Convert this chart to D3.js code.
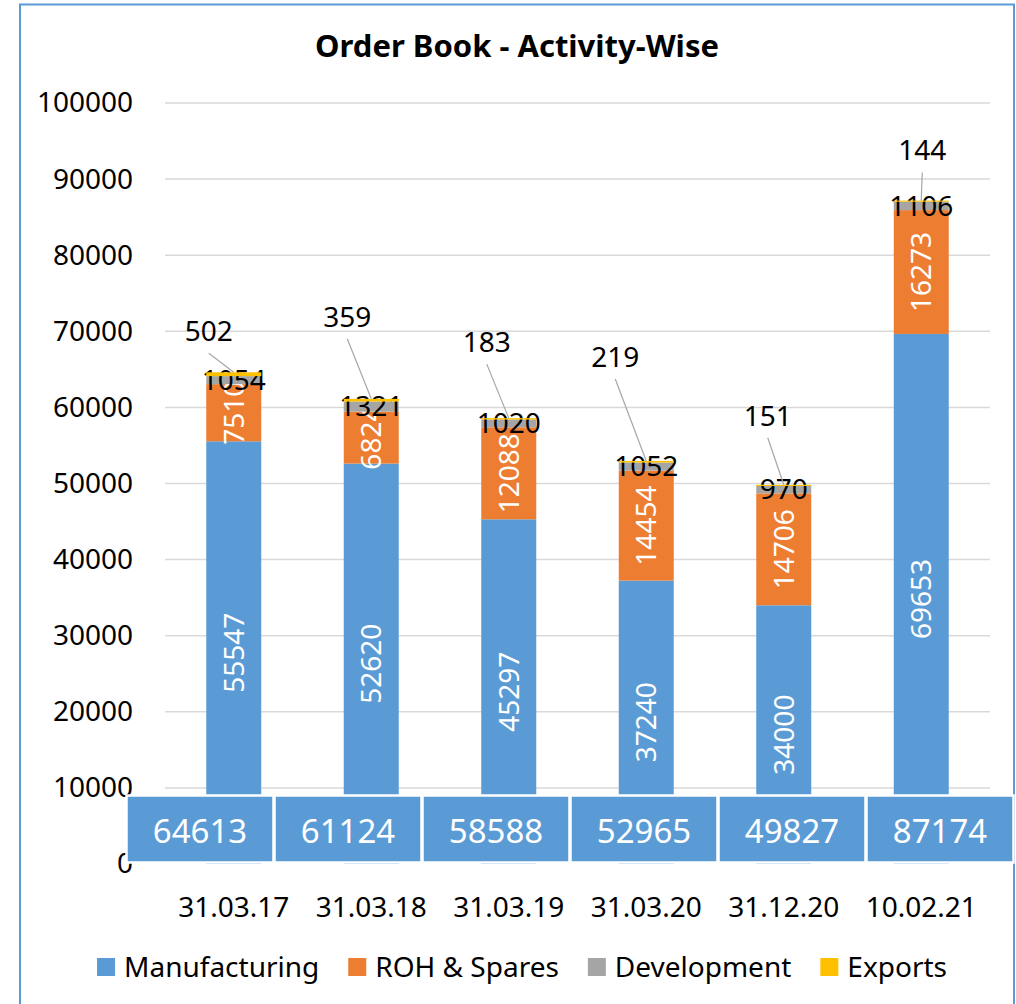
<!DOCTYPE html>
<html>
<head>
<meta charset="utf-8">
<script src="https://cdn.jsdelivr.net/npm/d3@7"></script>
<style>
  body { margin: 0; background: #fff; }
  svg text { font-family: "Noto Sans", "Open Sans", sans-serif; }
</style>
</head>
<body>
<div id="chart"></div>
<script>
const categories = ["31.03.17", "31.03.18", "31.03.19", "31.03.20", "31.12.20", "10.02.21"];
const manufacturing = [55547, 52620, 45297, 37240, 34000, 69653];
const rohSpares = [7510, 6824, 12088, 14454, 14706, 16273];
const development = [1054, 1321, 1020, 1052, 970, 1106];
const exportsVal = [502, 359, 183, 219, 151, 144];
const totals = [64613, 61124, 58588, 52965, 49827, 87174];
const seriesNames = ["Manufacturing", "ROH & Spares", "Development", "Exports"];
const seriesColors = ["#5B9BD5", "#ED7D31", "#A5A5A5", "#FFC000"];
const yTicks = d3.range(0, 100001, 10000);

// callout labels for Exports were dragged by hand in the original (px from bar top)
const exportLabelShift = [[-25, -41], [-24, -82], [-22, -76], [-31, -104], [-16, -69], [1, -50]];

const W = 1016, H = 1004;

const svg = d3.select("#chart")
  .append("svg")
  .attr("width", W)
  .attr("height", H)

// chart border
svg.append("rect")
  .attr("x", 20).attr("y", 4.5)
  .attr("width", 994).attr("height", 1100)
  .attr("fill", "none")
  .attr("stroke", "#5B9BD5")
  .attr("stroke-width", 2)

svg.append("text")
  .attr("x", 517).attr("y", 57)
  .attr("text-anchor", "middle")
  .attr("font-weight", "bold")
  .attr("font-size", 31)
  .text("Order Book - Activity-Wise")

const data = categories.map(function(c, i) {
  return {
    cat: c,
    "Manufacturing": manufacturing[i],
    "ROH & Spares": rohSpares[i],
    "Development": development[i],
    "Exports": exportsVal[i]
  }
})

const x = d3.scaleBand()
  .domain(categories)
  .range([165, 990])
  .paddingInner(0.6)
  .paddingOuter(0.3)

const y = d3.scaleLinear()
  .domain([0, 100000])
  .range([864, 103])

const color = d3.scaleOrdinal().domain(seriesNames).range(seriesColors)

// gridlines (no line at zero)
svg.append("g")
  .selectAll("line")
  .data(yTicks.filter(function(d) { return d > 0; }))
  .enter().append("line")
  .attr("x1", 165).attr("x2", 990)
  .attr("y1", function(d) { return y(d); })
  .attr("y2", function(d) { return y(d); })
  .attr("stroke", "#D9D9D9")
  .attr("stroke-width", 1.5)

// y axis labels
const yAxis = svg.append("g")
  .attr("transform", "translate(145,0)")
  .call(d3.axisLeft(y).tickValues(yTicks).tickSize(0).tickPadding(12).tickFormat(d3.format("d")))
yAxis.select(".domain").remove()
yAxis.selectAll("text")
  .attr("font-size", 28)
  .attr("font-family", "Noto Sans")
  .attr("fill", "#000")

const stacked = d3.stack().keys(seriesNames)(data)

stacked.forEach(function(layer, si) {
  const g = svg.append("g")
  g.selectAll("rect")
    .data(layer)
    .enter().append("rect")
    .attr("x", function(d) { return x(d.data.cat); })
    .attr("width", x.bandwidth())
    .attr("y", function(d) { return y(d[1]); })
    .attr("height", function(d) { return y(d[0]) - y(d[1]); })
    .attr("fill", color(layer.key))

  if (si < 2) {
    // rotated white labels inside
    g.selectAll("text")
      .data(layer)
      .enter().append("text")
      .attr("transform", function(d) {
        return "translate(" + (x(d.data.cat) + x.bandwidth() / 2) + "," + y((d[0] + d[1]) / 2) + ") rotate(-90)"
      })
      .attr("text-anchor", "middle")
      .attr("dy", "0.35em")
      .attr("font-size", 28)
      .attr("fill", "#fff")
      .text(function(d) { return d.data[layer.key]; })
  } else if (si == 2) {
    g.selectAll("text")
      .data(layer)
      .enter().append("text")
      .attr("x", function(d) { return x(d.data.cat) + x.bandwidth() / 2; })
      .attr("y", function(d) { return y((d[0] + d[1]) / 2); })
      .attr("dy", "0.35em")
      .attr("text-anchor", "middle")
      .attr("font-size", 28)
      .attr("fill", "#000")
      .text(function(d) { return d.data[layer.key]; })
  } else {
    g.selectAll("line")
      .data(layer)
      .enter().append("line")
      .attr("x1", function(d, i) { return x(d.data.cat) + x.bandwidth() / 2 + exportLabelShift[i][0]; })
      .attr("y1", function(d, i) { return y(d[1]) + exportLabelShift[i][1] + 22; })
      .attr("x2", function(d) { return x(d.data.cat) + x.bandwidth() / 2; })
      .attr("y2", function(d) { return y(d[1]); })
      .attr("stroke", "#A6A6A6")
      .attr("stroke-width", 1.2)
    g.selectAll("text")
      .data(layer)
      .enter().append("text")
      .attr("x", function(d, i) { return x(d.data.cat) + x.bandwidth() / 2 + exportLabelShift[i][0]; })
      .attr("y", function(d, i) { return y(d[1]) + exportLabelShift[i][1]; })
      .attr("dy", "0.35em")
      .attr("text-anchor", "middle")
      .attr("font-size", 28)
      .attr("fill", "#000")
      .text(function(d) { return d.data[layer.key]; })
  }
})

// totals strip laid over the bottom of the plot
const tx = d3.scaleBand().domain(categories).range([126, 1014])
const table = svg.append("g")
table.selectAll("rect")
  .data(totals)
  .enter().append("rect")
  .attr("x", function(d, i) { return tx(categories[i]) + 0.5; })
  .attr("y", 795.5)
  .attr("width", tx.bandwidth() - 1)
  .attr("height", 67)
  .attr("fill", "#5B9BD5")
  .attr("stroke", "#fff")
  .attr("stroke-width", 2.5)
table.selectAll("text")
  .data(totals)
  .enter().append("text")
  .attr("x", function(d, i) { return tx(categories[i]) + tx.bandwidth() / 2; })
  .attr("y", 843)
  .attr("text-anchor", "middle")
  .attr("font-size", 33)
  .attr("fill", "#fff")
  .text(function(d) { return d; })

// category labels
svg.append("g")
  .selectAll("text")
  .data(categories)
  .enter().append("text")
  .attr("x", function(d) { return x(d) + x.bandwidth() / 2; })
  .attr("y", 917)
  .attr("text-anchor", "middle")
  .attr("font-size", 28)
  .text(function(d) { return d; })

// legend, centred
const legend = svg.append("g")
const items = legend.selectAll("g")
  .data(seriesNames)
  .enter().append("g")
items.append("rect")
  .attr("width", 18).attr("height", 18)
  .attr("y", 958)
  .attr("fill", function(d) { return color(d); })
items.append("text")
  .attr("x", 27)
  .attr("y", 977)
  .attr("font-size", 28)
  .text(function(d) { return d; })

let cx = 0
const offs = []
items.each(function() {
  offs.push(cx)
  cx += 27 + this.querySelector("text").getComputedTextLength() + 29
})
const total = cx - 29
const start = 522 - total / 2
items.attr("transform", function(d, i) { return "translate(" + (start + offs[i]) + ",0)"; })
</script>
</body>
</html>
